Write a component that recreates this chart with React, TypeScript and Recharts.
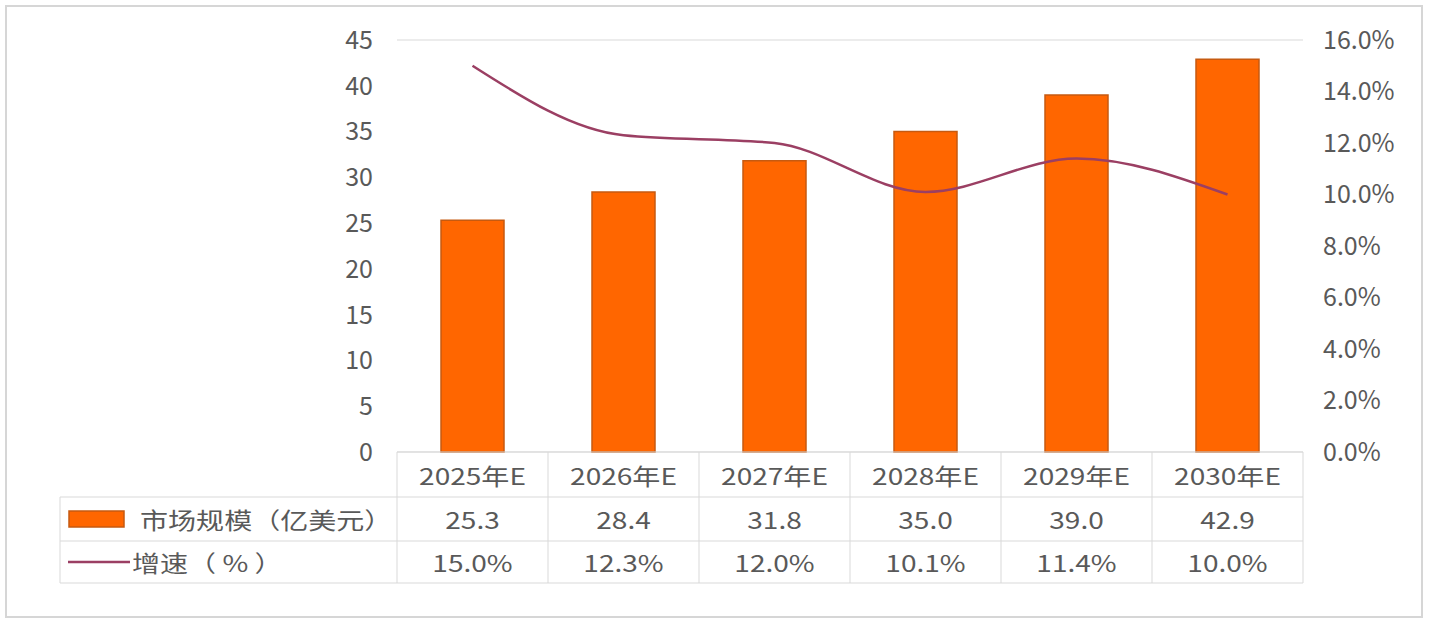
import { ComposedChart, Bar, Line, XAxis, YAxis, CartesianGrid } from 'recharts'

const categories = ['2025年E', '2026年E', '2027年E', '2028年E', '2029年E', '2030年E']
const marketSize = [25.3, 28.4, 31.8, 35.0, 39.0, 42.9]
const growthRate = [0.15, 0.123, 0.12, 0.101, 0.114, 0.1]
const leftTicks = [0, 5, 10, 15, 20, 25, 30, 35, 40, 45]
const rightTicks = [0, 0.02, 0.04, 0.06, 0.08, 0.1, 0.12, 0.14, 0.16]
const sizeLabel = '市场规模（亿美元）'
const rateLabel = '增速（ % ）'

const data = categories.map((name, i) => ({
  name,
  size: marketSize[i],
  rate: growthRate[i],
}))

const W = 1438
const H = 638
const PLOT_LEFT = 397
const PLOT_RIGHT = 1303
const COL_W = (PLOT_RIGHT - PLOT_LEFT) / categories.length
const TABLE_LEFT = 60
const ROW1 = 45
const ROW2 = 89
const ROW3 = 131

const BAR_COLOR = '#FF6600'
const BAR_STROKE = '#C65A10'
const LINE_COLOR = '#9B3F63'
const GRID = '#D9D9D9'
const TEXT = '#595959'
const FONT = '"Noto Sans CJK SC", "Noto Sans", sans-serif'

const pct = (v) => `${(v * 100).toFixed(1)}%`

// stretched text like the table in the source picture
const Wide = ({ x, y, children, anchor = 'middle' }) => (
  <text
    transform={`translate(${x},${y}) scale(1.22,1)`}
    textAnchor={anchor}
    dominantBaseline="central"
    fill={TEXT}
    fontSize={23}
    fontFamily={FONT}
  >
    {children}
  </text>
)

const TableTick = (props) => {
  const { x, y, payload, index } = props
  const i = payload?.index ?? index
  const l = x - COL_W / 2
  const r = x + COL_W / 2
  return (
    <g>
      <line x1={r} x2={r} y1={y} y2={y + ROW3} stroke={GRID} />
      {i === 0 && <line x1={l} x2={l} y1={y} y2={y + ROW3} stroke={GRID} />}
      <line x1={i === 0 ? TABLE_LEFT : l} x2={r} y1={y + ROW1} y2={y + ROW1} stroke={GRID} />
      <line x1={i === 0 ? TABLE_LEFT : l} x2={r} y1={y + ROW2} y2={y + ROW2} stroke={GRID} />
      <line x1={i === 0 ? TABLE_LEFT : l} x2={r} y1={y + ROW3} y2={y + ROW3} stroke={GRID} />
      <Wide x={x} y={y + 23}>{payload.value}</Wide>
      <Wide x={x} y={y + 67}>{marketSize[i].toFixed(1)}</Wide>
      <Wide x={x} y={y + 110}>{pct(growthRate[i])}</Wide>
      {i === 0 && (
        <g>
          <line x1={TABLE_LEFT} x2={TABLE_LEFT} y1={y + ROW1} y2={y + ROW3} stroke={GRID} />
          <rect x={69} y={y + 59} width={55} height={16} fill={BAR_COLOR} stroke={BAR_STROKE} strokeWidth={1.5} />
          <Wide x={140} y={y + 67} anchor="start">{sizeLabel}</Wide>
          <line x1={68} x2={130} y1={y + 110} y2={y + 110} stroke={LINE_COLOR} strokeWidth={2.5} />
          <Wide x={132} y={y + 110} anchor="start">{rateLabel}</Wide>
        </g>
      )}
    </g>
  )
}

export default function App() {
  return (
    <div style={{ position: 'absolute', left: 0, top: 0, width: W, height: H, background: '#fff' }}>
      <div
        style={{
          position: 'absolute',
          left: 5,
          top: 5,
          width: 1418,
          height: 613,
          border: '2px solid #D6D6D6',
          boxSizing: 'border-box',
        }}
      />
      <ComposedChart
        width={W}
        height={H}
        data={data}
        margin={{ top: 40, right: 35, bottom: 0, left: PLOT_LEFT - 60 }}
        barCategoryGap={0}
      >
        <CartesianGrid vertical={false} stroke={GRID} />
        <XAxis
          dataKey="name"
          xAxisId={0}
          height={186}
          tickLine={false}
          tickSize={0}
          tickMargin={0}
          axisLine={{ stroke: GRID }}
          tick={<TableTick />}
          interval={0}
        />
        <YAxis
          yAxisId="left"
          orientation="left"
          width={60}
          domain={[0, 45]}
          ticks={leftTicks}
          axisLine={false}
          tickLine={false}
          tickSize={0}
          tickMargin={24}
          tick={{ fill: TEXT, fontSize: 25, fontFamily: FONT }}
        />
        <YAxis
          yAxisId="right"
          orientation="right"
          width={100}
          domain={[0, 0.16]}
          ticks={rightTicks}
          tickFormatter={pct}
          axisLine={false}
          tickLine={false}
          tickSize={0}
          tickMargin={20}
          tick={{ fill: TEXT, fontSize: 25, fontFamily: FONT }}
        />
        <Bar
          yAxisId="left"
          dataKey="size"
          barSize={63}
          fill={BAR_COLOR}
          stroke={BAR_STROKE}
          strokeWidth={1.5}
          isAnimationActive={false}
        />
        <Line
          yAxisId="right"
          dataKey="rate"
          type="monotone"
          stroke={LINE_COLOR}
          strokeWidth={2.5}
          dot={false}
          activeDot={false}
          isAnimationActive={false}
        />
      </ComposedChart>
    </div>
  )
}
